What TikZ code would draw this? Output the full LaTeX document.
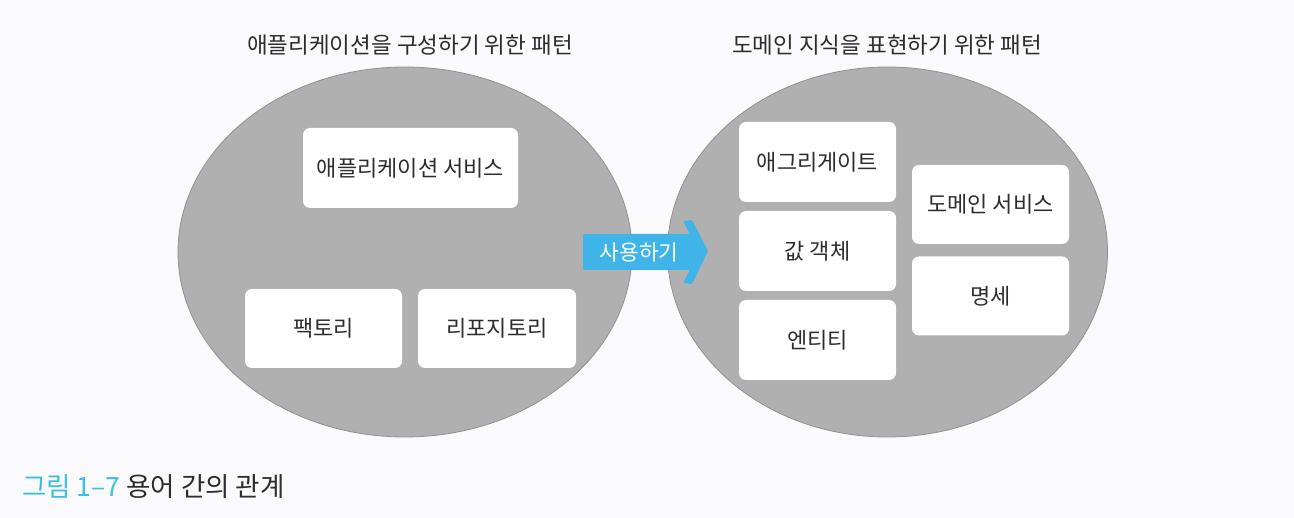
\documentclass[tikz,border=0pt]{standalone}
\usepackage{fontspec}
\setmainfont{Noto Sans CJK KR}
\begin{document}
\begin{tikzpicture}[x=1pt,y=-1pt,
  bg/.style={fill=pagebg,draw=none},
  blob/.style={fill=ellgray,draw=elledge,line width=0.8pt},
  termbox/.style={fill=white,draw=none,rounded corners=7pt,text=txt,font=\fontsize{22}{26}\selectfont,inner sep=0pt},
  title/.style={text=txt,font=\fontsize{22.5}{27}\selectfont,inner sep=0pt},
  usearrow/.style={fill=arrowblue,draw=none,rounded corners=1.5pt},
]
\definecolor{pagebg}{RGB}{250,250,252}
\definecolor{ellgray}{RGB}{176,176,176}
\definecolor{elledge}{RGB}{145,145,150}
\definecolor{txt}{RGB}{45,45,45}
\definecolor{arrowblue}{RGB}{62,180,232}
\definecolor{capblue}{RGB}{58,190,232}
\path[bg,use as bounding box] (0,0) rectangle (1294,518);

% ellipses
\path[blob] (405,252) ellipse [x radius=227, y radius=185];
\path[blob] (887.5,252) ellipse [x radius=220, y radius=185];

% titles
\node[title] (tl) at (410,45) {애플리케이션을 구성하기 위한 패턴};
\node[title] (tr) at (887,45) {도메인 지식을 표현하기 위한 패턴};

% left boxes
\node[termbox,minimum width=215pt,minimum height=80pt] (appsvc) at (410.5,168) {애플리케이션 서비스};
\node[termbox,minimum width=157pt,minimum height=79pt] (factory) at (323.5,328.5) {팩토리};
\node[termbox,minimum width=158pt,minimum height=79pt] (repo) at (497,328.5) {리포지토리};

% right boxes
\node[termbox,minimum width=157pt,minimum height=80pt] (agg) at (817.5,162) {애그리게이트};
\node[termbox,minimum width=157pt,minimum height=80pt] (vo) at (817.5,251) {값 객체};
\node[termbox,minimum width=157pt,minimum height=80pt] (ent) at (817.5,340) {엔티티};
\node[termbox,minimum width=157pt,minimum height=79pt] (dsvc) at (990.5,204.5) {도메인 서비스};
\node[termbox,minimum width=157pt,minimum height=79pt] (spec) at (990.5,296) {명세};

% arrow
\path[usearrow] (583,234) -- (690,234) -- (683,221) -- (692,220) -- (708,251)
  -- (692,284) -- (683,283) -- (690,270) -- (583,270) -- cycle;
\node[text=white,font=\fontsize{21.5}{25}\selectfont,inner sep=0pt] (use) at (639,252) {사용하기};

% caption
\node[anchor=west,inner sep=0pt,font=\fontsize{26.5}{30}\selectfont] (cap) at (22,487)
  {\textcolor{capblue}{그림 1–7} \textcolor{txt}{용어 간의 관계}};
\end{tikzpicture}
\end{document}
